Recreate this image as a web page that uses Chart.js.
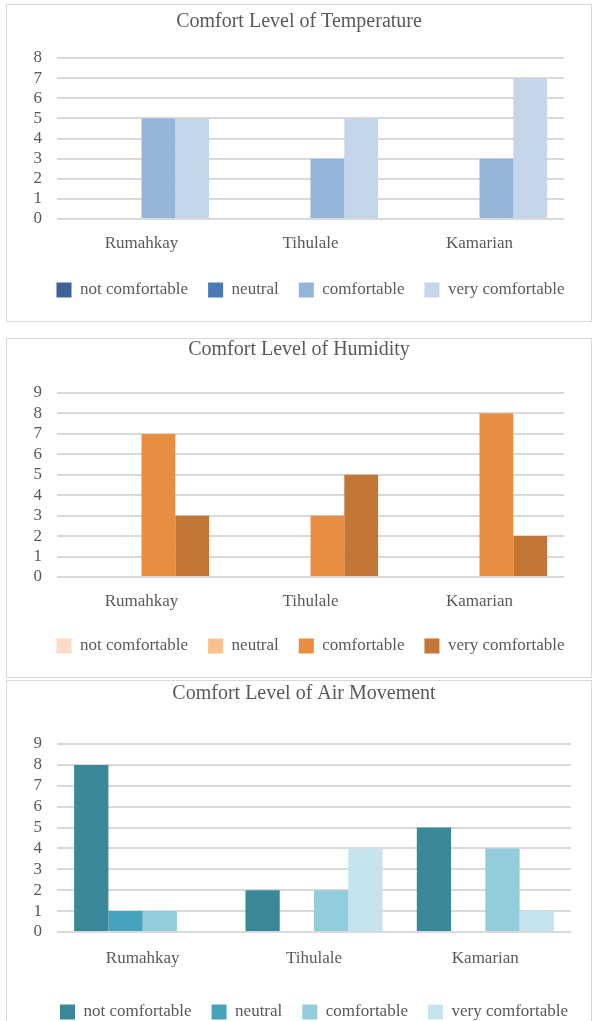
<!DOCTYPE html>
<html>
<head>
<meta charset="utf-8">
<script src="https://cdn.jsdelivr.net/npm/chart.js@4.4.1/dist/chart.umd.min.js"></script>
<style>
  body { margin: 0; background: #fff; width: 593px; height: 1021px; overflow: hidden; position: relative; }
  .box { position: absolute; left: 6px; width: 584px; border: 1px solid #d9d9d9; background: #fff; }
  #box1 { top: 4px; height: 316px; }
  #box2 { top: 338px; height: 338px; }
  #box3 { top: 680px; height: 352px; }
</style>
</head>
<body>
<div class="box" id="box1"><canvas id="tempChart"></canvas></div>
<div class="box" id="box2"><canvas id="humChart"></canvas></div>
<div class="box" id="box3"><canvas id="airChart"></canvas></div>
<script>
  const villages = ['Rumahkay', 'Tihulale', 'Kamarian'];
  const levels = ['not comfortable', 'neutral', 'comfortable', 'very comfortable'];

  // values per level, in village order
  const tempNotComf = [0, 0, 0];
  const tempNeutral = [0, 0, 0];
  const tempComf = [5, 3, 3];
  const tempVeryComf = [5, 5, 7];

  const humNotComf = [0, 0, 0];
  const humNeutral = [0, 0, 0];
  const humComf = [7, 3, 8];
  const humVeryComf = [3, 5, 2];

  const airNotComf = [8, 2, 5];
  const airNeutral = [1, 0, 0];
  const airComf = [1, 2, 4];
  const airVeryComf = [0, 4, 1];

  const tempColors = ['#3d6396', '#4a7ab5', '#95b4d9', '#c5d6eb'];
  const humColors = ['#fcdcc5', '#f9c090', '#e98d42', '#c27636'];
  const airColors = ['#3b879a', '#47a3bd', '#93cddd', '#c6e4ee'];

  const serif = "'Liberation Serif', 'Times New Roman', serif";
  const textColor = '#595959';

  // legend sits centred under the plot area, title centred on the whole box
  const legendShift = {
    id: 'legendShift',
    afterLayout: chart => {
      const a = chart.chartArea;
      const lg = chart.legend;
      const dx = (a.left + a.right) / 2 - (lg.left + lg.right) / 2;
      lg.left += dx;
      lg.right += dx;
    }
  };

  const renderChart = (id, title, series, colors, yMax, lay) => {
    const ctx = document.getElementById(id).getContext('2d');
    return new Chart(ctx, {
      type: 'bar',
      data: {
        labels: villages,
        datasets: series.map((data, i) => ({
          label: levels[i],
          data: data,
          backgroundColor: colors[i],
          borderWidth: 0,
          categoryPercentage: 0.8,
          barPercentage: 1
        }))
      },
      options: {
        responsive: true,
        maintainAspectRatio: false,
        animation: false,
        layout: { padding: { left: lay.left, right: 0, top: 0, bottom: lay.bottom } },
        plugins: {
          tooltip: { enabled: false },
          title: {
            display: true,
            text: title,
            color: textColor,
            font: { family: serif, size: 20, weight: 'normal', lineHeight: 1 },
            padding: { top: lay.titleTop, bottom: lay.titleBottom }
          },
          legend: {
            position: 'bottom',
            labels: {
              color: textColor,
              boxWidth: 15,
              boxHeight: 15,
              padding: 20,
              font: { family: serif, size: 17 }
            }
          }
        },
        scales: {
          x: {
            grid: { display: false },
            border: { display: false },
            ticks: { color: textColor, padding: lay.xPad, font: { family: serif, size: 17 } },
            afterFit: scale => { scale.height = lay.xHeight; }
          },
          y: {
            min: 0,
            max: yMax,
            border: { display: false },
            grid: { color: '#d9d9d9', lineWidth: 2, drawTicks: false },
            ticks: { stepSize: 1, color: textColor, padding: 15, font: { family: serif, size: 17, lineHeight: 1 } },
            afterFit: scale => { scale.width = lay.yWidth; }
          },
          // empty right-hand axis keeps the gap to the box edge
          yRight: {
            position: 'right',
            display: true,
            grid: { display: false },
            border: { display: false },
            ticks: { display: false },
            afterFit: scale => { scale.width = lay.right; }
          }
        }
      },
      plugins: [legendShift]
    });
  };

  renderChart('tempChart', 'Comfort Level of Temperature',
    [tempNotComf, tempNeutral, tempComf, tempVeryComf], tempColors, 8,
    { left: 0, right: 27, bottom: 12.5, titleTop: 7, titleBottom: 26, xPad: 6.8, xHeight: 42.5, yWidth: 50 });

  renderChart('humChart', 'Comfort Level of Humidity',
    [humNotComf, humNeutral, humComf, humVeryComf], humColors, 9,
    { left: 0, right: 27, bottom: 12.5, titleTop: 1, titleBottom: 33, xPad: 6.8, xHeight: 40.5, yWidth: 50 });

  renderChart('airChart', 'Comfort Level of Air Movement',
    [airNotComf, airNeutral, airComf, airVeryComf], airColors, 9,
    { left: 10, right: 20, bottom: 2.5, titleTop: 3, titleBottom: 40, xPad: 8.8, xHeight: 51.5, yWidth: 40 });
</script>
</body>
</html>
